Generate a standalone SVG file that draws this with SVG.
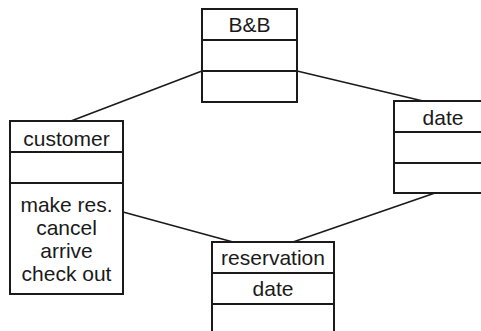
<svg xmlns="http://www.w3.org/2000/svg" width="481" height="331" viewBox="0 0 481 331">
<style>
.box{fill:#fff;stroke:#1a1a1a;stroke-width:2}
.div{stroke:#1a1a1a;stroke-width:2}
.edge{stroke:#1a1a1a;stroke-width:1.6;fill:none}
text{font-family:"Liberation Sans",Arial,sans-serif;font-size:21px;fill:#1a1a1a;text-anchor:middle}
</style>
<rect width="481" height="331" fill="#fff"/>
<g id="connectors">
<line class="edge" x1="202" y1="71" x2="71" y2="121"/>
<line class="edge" x1="297" y1="71" x2="423" y2="101"/>
<line class="edge" x1="123" y1="212" x2="233" y2="242"/>
<line class="edge" x1="435" y1="193" x2="293" y2="242"/>
</g>
<g id="bb">
<rect class="box" x="202" y="9" width="95" height="93"/>
<line class="div" x1="202" y1="40" x2="297" y2="40"/>
<line class="div" x1="202" y1="71" x2="297" y2="71"/>
<text x="249.5" y="32">B&amp;B</text>
</g>
<g id="customer">
<rect class="box" x="10" y="121" width="113" height="173"/>
<line class="div" x1="10" y1="152" x2="123" y2="152"/>
<line class="div" x1="10" y1="183" x2="123" y2="183"/>
<text x="66.5" y="146">customer</text>
<text x="66.5" y="212">make res.</text>
<text x="66.5" y="235">cancel</text>
<text x="66.5" y="258">arrive</text>
<text x="66.5" y="281">check out</text>
</g>
<g id="date">
<rect class="box" x="394" y="101" width="98" height="92"/>
<line class="div" x1="394" y1="132" x2="492" y2="132"/>
<line class="div" x1="394" y1="163" x2="492" y2="163"/>
<text x="443" y="125">date</text>
</g>
<g id="reservation">
<rect class="box" x="212" y="242" width="122" height="95"/>
<line class="div" x1="212" y1="273" x2="334" y2="273"/>
<line class="div" x1="212" y1="304" x2="334" y2="304"/>
<text x="273" y="265">reservation</text>
<text x="273" y="296">date</text>
</g>
</svg>
